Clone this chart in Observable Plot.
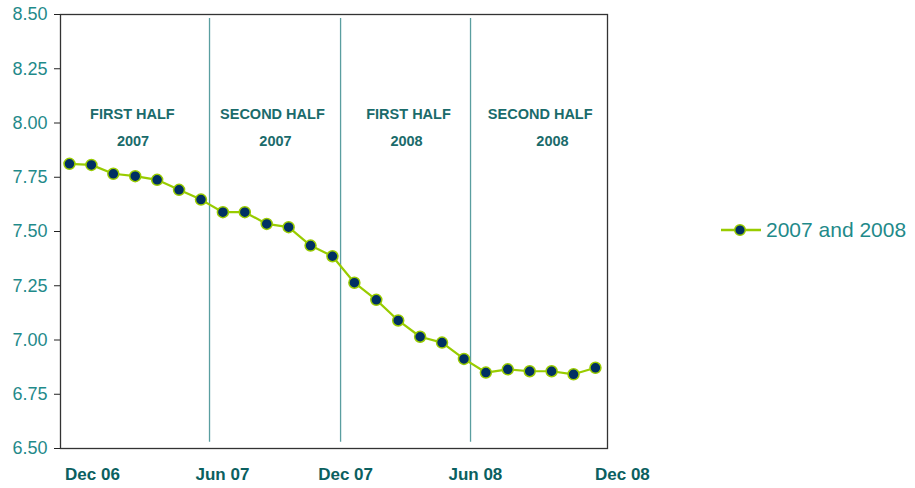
<!DOCTYPE html>
<html><head><meta charset="utf-8">
<script src="https://cdn.jsdelivr.net/npm/d3@7"></script>
<script src="https://cdn.jsdelivr.net/npm/@observablehq/plot@0.6"></script>
<style>
body{margin:0;background:#fff;font-family:"Liberation Sans",Arial,sans-serif}
#wrap{position:relative;width:915px;height:488px;overflow:hidden}
#legend{position:absolute;left:721px;top:218px;display:flex;align-items:center;font-size:21px;color:#1f8a8a;white-space:nowrap}
#legend span{margin-left:5px}
</style></head><body>
<div id="wrap"><div id="chart"></div>
<div id="legend"><svg width="40" height="22"><line x1="0" x2="40" y1="11" y2="11" stroke="#99cc00" stroke-width="2.5"/><circle cx="19" cy="11" r="5.3" fill="#003063" stroke="#99cc00" stroke-width="1.5"/></svg><span>2007 and 2008</span></div>
</div>
<script>
const months = ["Dec 06","Jan 07","Feb 07","Mar 07","Apr 07","May 07","Jun 07","Jul 07","Aug 07","Sep 07","Oct 07","Nov 07","Dec 07","Jan 08","Feb 08","Mar 08","Apr 08","May 08","Jun 08","Jul 08","Aug 08","Sep 08","Oct 08","Nov 08","Dec 08"];
const values = [7.812,7.807,7.766,7.755,7.738,7.692,7.647,7.589,7.589,7.535,7.520,7.435,7.386,7.264,7.185,7.090,7.015,6.988,6.913,6.850,6.865,6.856,6.856,6.842,6.872];
const tickLabels = ["Dec 06","Jun 07","Dec 07","Jun 08","Dec 08"];
const tickPos = [1.05,6.98,12.6,18.52,25.23];
const dividerPos = [6.39,12.37,18.3];
const halfLabels = ["FIRST HALF","SECOND HALF","FIRST HALF","SECOND HALF"];
const halfYears = ["2007","2007","2008","2008"];
const halfLabelPos = [2.87,9.26,15.47,21.48];
const halfYearPos = [2.9,9.4,15.38,22.04];
const yTicks = [6.5,6.75,7,7.25,7.5,7.75,8,8.25,8.5];

const data = months.map((m,i)=>({i, month:m, v:values[i]}));
const ticks = tickLabels.map((t,k)=>({label:t, x:tickPos[k]}));
const halves = halfLabels.map((t,k)=>({label:t, year:halfYears[k], x:halfLabelPos[k], xy:halfYearPos[k]}));

const chart = Plot.plot({
  width:915, height:488,
  marginLeft:60, marginRight:308, marginTop:14, marginBottom:40,
  style:{fontFamily:'"Liberation Sans",Arial,sans-serif', background:"#fff"},
  x:{domain:[-0.41,24.55], axis:null},
  y:{domain:[6.5,8.5], axis:null},
  marks:[
    Plot.ruleX(dividerPos,{y1:6.529,y2:8.482,stroke:"#5a9ea0",strokeWidth:1.3}),
    Plot.frame({stroke:"#333",strokeWidth:1.3}),
    Plot.axisY({ticks:yTicks, tickFormat:".2f", tickSize:6, tickPadding:7, fontSize:18, color:"#1f8a8a", stroke:"#222", label:null}),
    Plot.text(halves,{x:"x", y:()=>8, dy:-9, text:"label", fontSize:14.5, fontWeight:"bold", fill:"#1a6b6b"}),
    Plot.text(halves,{x:"xy", y:()=>8, dy:18, text:"year", fontSize:14.5, fontWeight:"bold", fill:"#1a6b6b"}),
    Plot.text(ticks,{x:"x", y:()=>6.5, dy:26, text:"label", fontSize:17, fontWeight:"bold", fill:"#0b6060"}),
    Plot.line(data,{x:"i", y:"v", stroke:"#99cc00", strokeWidth:2.2}),
    Plot.dot(data,{x:"i", y:"v", r:5.5, fill:"#003063", stroke:"#99cc00", strokeWidth:1.5})
  ]
});
document.getElementById("chart").append(chart);
</script>
</body></html>
